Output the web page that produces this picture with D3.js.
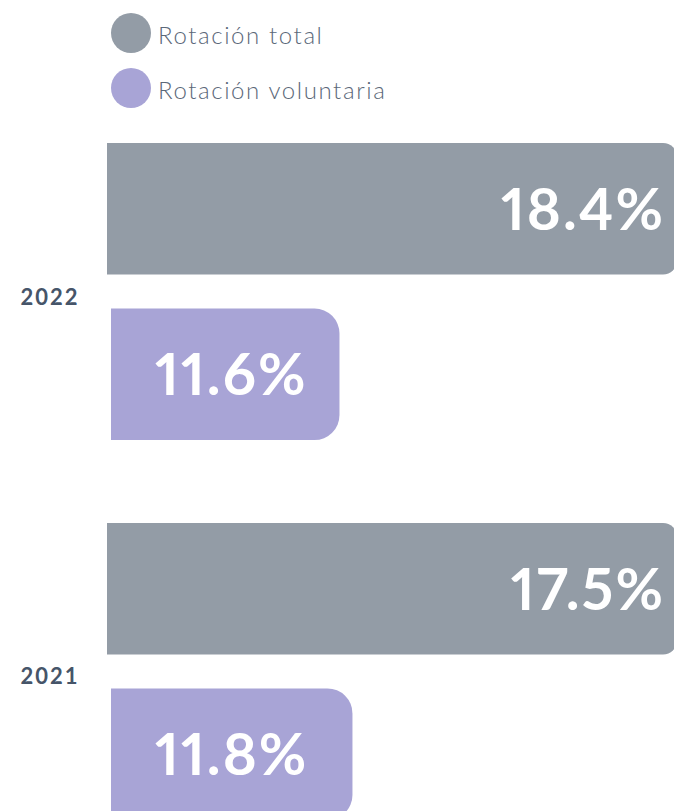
<!DOCTYPE html>
<html>
<head>
<meta charset="utf-8">
<script src="https://cdn.jsdelivr.net/npm/d3@7"></script>
<style>
  html, body { margin: 0; padding: 0; background: #ffffff; overflow: hidden; }
  svg { display: block; }
  .value { font-feature-settings: "pnum" 1; font-variant-numeric: proportional-nums; }
</style>
</head>
<body>
<svg id="chart" width="674" height="811"></svg>
<script>
// Turnover rates by year (%)
const years = ["2022", "2021"];
const seriesKeys = ["total", "voluntaria"];
const seriesNames = ["Rotación total", "Rotación voluntaria"];
const totalValues = [18.4, 17.5];
const voluntaryValues = [11.6, 11.8];

const colors = { total: "#939ca6", voluntaria: "#a8a4d6" };
const cornerRadius = { total: 14, voluntaria: 25 };
const barInset = { total: -4, voluntaria: 0 };

const rows = years.map((y, i) => ({
  year: y,
  values: [
    { key: "total", value: totalValues[i] },
    { key: "voluntaria", value: voluntaryValues[i] }
  ]
}));

const svg = d3.select("#chart");

// Horizontal value scale (bars run off the right edge, so clamp there)
const x = d3.scaleLinear().domain([8.08, 16.8]).range([111, 677]).clamp(true);

// Year groups and bars within each group
const yGroup = d3.scaleBand().domain(years).range([143, 820]).paddingInner(0.218);
const ySeries = d3.scaleBand().domain(seriesKeys).range([0, yGroup.bandwidth()]).paddingInner(0.205);

// Bar with rounded right-hand corners only
function rightRoundedBar(x0, y0, x1, h, r) {
  r = Math.min(r, h / 2, x1 - x0);
  return `M${x0},${y0}H${x1 - r}A${r},${r} 0 0 1 ${x1},${y0 + r}` +
         `V${y0 + h - r}A${r},${r} 0 0 1 ${x1 - r},${y0 + h}H${x0}Z`;
}

const groups = svg.selectAll("g.year")
  .data(rows)
  .join("g")
  .attr("class", "year")
  .attr("transform", d => `translate(0,${yGroup(d.year)})`);

groups.selectAll("path.bar")
  .data(d => d.values)
  .join("path")
  .attr("class", "bar")
  .attr("fill", d => colors[d.key])
  .attr("d", d => rightRoundedBar(
    x.range()[0] + barInset[d.key],
    ySeries(d.key),
    x(d.value),
    ySeries.bandwidth(),
    cornerRadius[d.key]));

const fmt = v => d3.format(".1f")(v) + "%";

groups.selectAll("text.value")
  .data(d => d.values)
  .join("text")
  .attr("class", "value")
  .attr("x", d => d.key === "total" ? x(d.value) - 12 : x.range()[0] + 44)
  .attr("y", d => ySeries(d.key) + ySeries.bandwidth() / 2 + 21)
  .attr("text-anchor", d => d.key === "total" ? "end" : "start")
  .attr("fill", "#ffffff")
  .attr("font-family", "Lato, 'Open Sans', sans-serif")
  .attr("font-weight", 700)
  .attr("font-size", 58)
  .attr("letter-spacing", 2)
  .text(d => fmt(d.value));

groups.append("text")
  .attr("class", "year-label")
  .attr("x", 50)
  .attr("y", yGroup.bandwidth() / 2 + 13)
  .attr("text-anchor", "middle")
  .attr("fill", "#465569")
  .attr("font-family", "Lato, 'Open Sans', sans-serif")
  .attr("font-weight", 700)
  .attr("font-size", 22)
  .attr("letter-spacing", 2)
  .text(d => d.year);

// Legend
const legend = svg.append("g").attr("class", "legend");
const legendY = d3.scalePoint().domain(seriesKeys).range([33, 88]);

const items = legend.selectAll("g")
  .data(seriesKeys)
  .join("g")
  .attr("transform", k => `translate(131,${legendY(k)})`);

items.append("circle")
  .attr("r", 20)
  .attr("fill", k => colors[k]);

items.append("text")
  .attr("x", 27)
  .attr("y", 11)
  .attr("fill", "#5b6879")
  .attr("font-family", "Lato, 'Open Sans', sans-serif")
  .attr("font-weight", 300)
  .attr("font-size", 24)
  .attr("letter-spacing", 1.6)
  .text((k, i) => seriesNames[i]);
</script>
</body>
</html>
